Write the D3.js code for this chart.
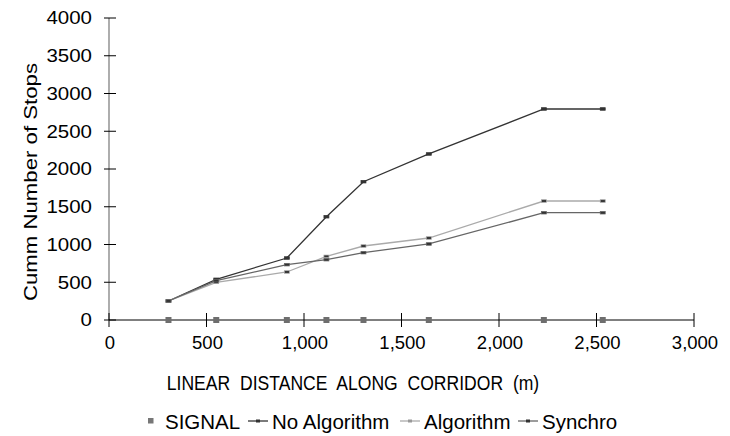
<!DOCTYPE html>
<html>
<head>
<meta charset="utf-8">
<script src="https://cdn.jsdelivr.net/npm/d3@7"></script>
<style>
  body { margin: 0; background: #fff; }
  text { font-family: "Liberation Sans", Arial, sans-serif; fill: #000; }
</style>
</head>
<body>
<svg width="730" height="436"></svg>
<script>
// signal positions along the corridor (m)
const distance = [305, 550, 912, 1115, 1305, 1640, 2230, 2532];
const noAlgorithm = [252, 539, 821, 1368, 1832, 2199, 2795, 2795];
const algorithm = [252, 499, 636, 843, 980, 1086, 1576, 1576];
const synchro = [252, 521, 733, 799, 892, 1007, 1421, 1421];
const signal = [0, 0, 0, 0, 0, 0, 0, 0];

const xTicks = [0, 500, 1000, 1500, 2000, 2500, 3000];
const yTicks = [0, 500, 1000, 1500, 2000, 2500, 3000, 3500, 4000];

const series = [
  { name: "No Algorithm", values: noAlgorithm, color: "#333" },
  { name: "Algorithm", values: algorithm, color: "#aaa" },
  { name: "Synchro", values: synchro, color: "#666" }
];

const svg = d3.select("svg");
const x = d3.scaleLinear().domain([0, 3000]).range([109, 694]);
const y = d3.scaleLinear().domain([0, 4000]).range([320, 18]);

// y axis
svg.append("line")
  .attr("x1", x(0)).attr("x2", x(0))
  .attr("y1", y(4000)).attr("y2", y(0))
  .attr("stroke", "#777").attr("stroke-width", 1.2);
svg.selectAll(".ytick").data(yTicks).enter().append("line")
  .attr("x1", x(0) - 5).attr("x2", x(0) + 7)
  .attr("y1", d => y(d)).attr("y2", d => y(d))
  .attr("stroke", "#000");
svg.selectAll(".ylab").data(yTicks).enter().append("text")
  .attr("transform", d => `translate(92,${y(d) + 6.3}) scale(1.17,1)`)
  .attr("text-anchor", "end")
  .attr("font-size", 17.5)
  .text(d => d);

// x axis
svg.append("line")
  .attr("x1", x(0)).attr("x2", x(3000))
  .attr("y1", y(0)).attr("y2", y(0))
  .attr("stroke", "#000").attr("stroke-width", 1);
svg.selectAll(".xtick").data(xTicks).enter().append("line")
  .attr("x1", d => x(d)).attr("x2", d => x(d))
  .attr("y1", y(0) - 7).attr("y2", y(0) + 7)
  .attr("stroke", "#000");
svg.selectAll(".xlab").data(xTicks).enter().append("text")
  .attr("x", d => x(d) + 1).attr("y", 349)
  .attr("text-anchor", "middle")
  .attr("font-size", 18.5)
  .text(d => d3.format(",")(d));

svg.append("text")
  .attr("transform", "translate(353,390) scale(0.9,1)")
  .attr("text-anchor", "middle")
  .attr("font-size", 19.5)
  .attr("word-spacing", 5.5)
  .text("LINEAR DISTANCE ALONG CORRIDOR (m)");

svg.append("text")
  .attr("transform", "translate(37,182) rotate(-90)")
  .attr("text-anchor", "middle")
  .attr("font-size", 19)
  .attr("textLength", 238)
  .attr("lengthAdjust", "spacingAndGlyphs")
  .text("Cumm Number of Stops");

// signal markers
svg.selectAll(".sig").data(distance).enter().append("rect")
  .attr("x", d => x(d) - 3).attr("y", (d, i) => y(signal[i]) - 3)
  .attr("width", 6).attr("height", 6)
  .attr("fill", "#6e6e6e");

// lines
const line = d3.line().x((d, i) => x(distance[i])).y(d => y(d));
series.forEach(s => {
  svg.append("path")
    .attr("d", line(s.values))
    .attr("fill", "none")
    .attr("stroke", s.color)
    .attr("stroke-width", 1.3);
  svg.selectAll(null).data(s.values).enter().append("rect")
    .attr("x", (d, i) => x(distance[i]) - 2.5)
    .attr("y", d => y(d) - 1.3)
    .attr("width", 5).attr("height", 2.6)
    .attr("fill", "#333")
    .attr("stroke", s.color).attr("stroke-width", 0.7);
});

// legend
const ly = 421;
svg.append("rect").attr("x", 148).attr("y", ly - 3).attr("width", 5.5).attr("height", 5.5).attr("fill", "#777");
svg.append("text").attr("x", 165).attr("y", ly + 8).attr("font-size", 20.5).text("SIGNAL");
const legendItems = [
  { s: series[0], lx: 248, tx: 272 },
  { s: series[1], lx: 400, tx: 424 },
  { s: series[2], lx: 518, tx: 542 }
];
legendItems.forEach(it => {
  svg.append("line").attr("x1", it.lx).attr("x2", it.lx + 20)
    .attr("y1", ly).attr("y2", ly)
    .attr("stroke", it.s.color).attr("stroke-width", 1.3);
  svg.append("rect").attr("x", it.lx + 8).attr("y", ly - 1.5)
    .attr("width", 4).attr("height", 3).attr("fill", it.s.color === "#aaa" ? "#999" : "#333");
  svg.append("text").attr("x", it.tx).attr("y", ly + 8).attr("font-size", 20.5).text(it.s.name);
});
</script>
</body>
</html>
